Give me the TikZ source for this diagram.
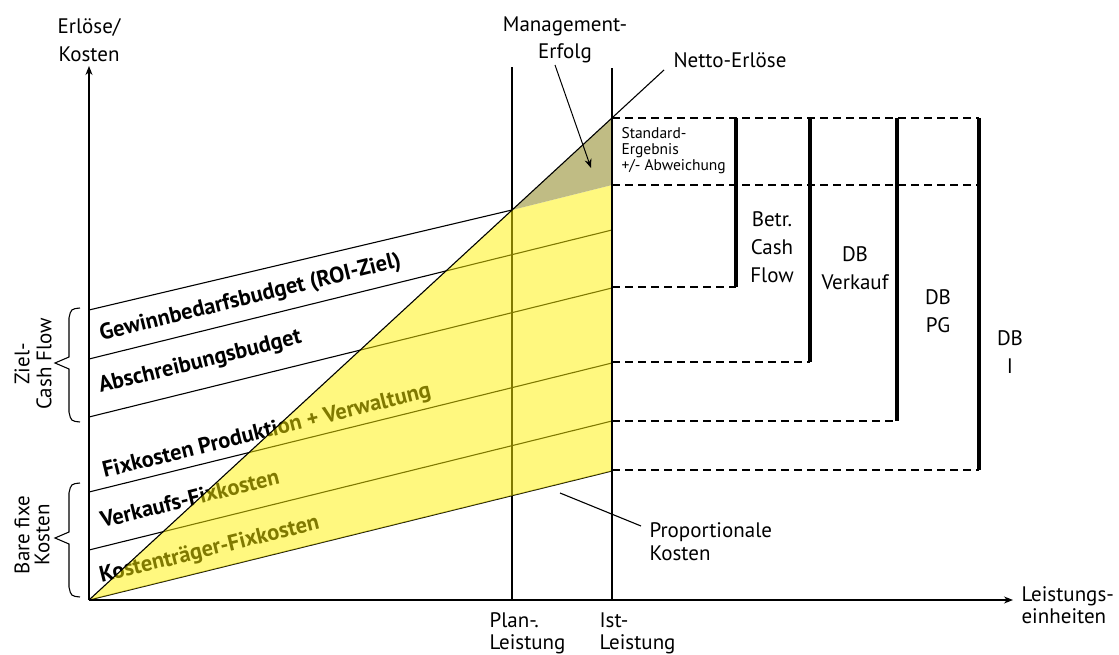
\documentclass[tikz,border=0pt]{standalone}
\usepackage{fontspec}
\setmainfont{PT Sans}
\usetikzlibrary{arrows.meta}
\definecolor{mgray}{RGB}{192,188,132}
\begin{document}
\begin{tikzpicture}[x=1pt,y=-1pt, line width=1.1pt,
  lbl/.style={inner sep=0pt, font=\fontsize{21}{28}\selectfont, align=center},
  lbll/.style={inner sep=0pt, font=\fontsize{21}{22}\selectfont, align=left},
  small/.style={inner sep=0pt, font=\fontsize{15.5}{16}\selectfont, align=left},
  boldlbl/.style={inner sep=0pt, font=\bfseries\fontsize{22.5}{25}\selectfont, anchor=base west, rotate=13.9},
  dashln/.style={dash pattern=on 8pt off 5pt, line width=1.1pt},
  dbbar/.style={line width=3.4pt},
  arr/.style={-{Stealth[length=9pt,width=7pt]}},
]
\useasboundingbox (0,0) rectangle (1119,655);
% coordinates
\coordinate (O) at (89,600);
\coordinate (Ytip) at (89,66);
\coordinate (Xtip) at (1013,600);
\coordinate (P0) at (512,600);
\coordinate (P1) at (512,67);
\coordinate (I0) at (612,600);
\coordinate (I1) at (612,68);
\coordinate (N1) at (664,70);
\coordinate (NP) at (512,210);
\coordinate (NI) at (612,118);
\coordinate (G) at (612,185);
\coordinate (A1) at (89,550); \coordinate (B1) at (612,421);
\coordinate (A2) at (89,492); \coordinate (B2) at (612,363);
\coordinate (A3) at (89,417); \coordinate (B3) at (612,288);
\coordinate (A4) at (89,359); \coordinate (B4) at (612,230);
\coordinate (A5) at (89,310);
\coordinate (B0) at (612,471);
% under-layer lines and texts
\draw (P0) -- (P1);
\draw (O) -- (B0);
\draw (A1) -- (B1);
\draw (A2) -- (B2);
\draw (A3) -- (B3);
\draw (A4) -- (B4);
\draw (A5) -- (NP);
\node[boldlbl] (gew) at (101,341) {Gewinnbedarfsbudget (ROI-Ziel)};
\node[boldlbl] (abs) at (100,393) {Abschreibungsbudget};
\node[boldlbl] (fix) at (104,478) {Fixkosten Produktion + Verwaltung};
\node[boldlbl] (vk) at (102,528) {Verkaufs-Fixkosten};
\node[boldlbl] (kt) at (101,583) {Kostenträger-Fixkosten};
% yellow overlay
\fill[yellow, opacity=0.5] (O) -- (NP) -- (G) -- (B0) -- cycle;
\fill[mgray] (NP) -- (NI) -- (G) -- cycle;
% top lines
\draw (O) -- (N1);
\draw (I0) -- (I1);
\draw[arr] (O) -- (Ytip);
\draw[arr] (O) -- (Xtip);
% dashed lines and bars
\coordinate (D1) at (979,118);
\coordinate (D2a) at (612,185); \coordinate (D2) at (979,185);
\coordinate (D3a) at (612,287); \coordinate (D3) at (736,287);
\coordinate (D4a) at (612,362); \coordinate (D4) at (810,362);
\coordinate (D5a) at (612,421); \coordinate (D5) at (897,421);
\coordinate (D6a) at (612,470); \coordinate (D6) at (979,470);
\draw[dashln] (NI) -- (D1);
\draw[dashln] (D2a) -- (D2);
\draw[dashln] (D3a) -- (D3);
\draw[dashln] (D4a) -- (D4);
\draw[dashln] (D5a) -- (D5);
\draw[dashln] (D6a) -- (D6);
\coordinate (T1) at (736,118); \coordinate (T2) at (810,118); \coordinate (T3) at (897,118);
\draw[dbbar] (T1) -- (D3);
\draw[dbbar] (T2) -- (D4);
\draw[dbbar] (T3) -- (D5);
\draw[dbbar] (D1) -- (D6);
% braces
\draw (80,308) .. controls (71,309) .. (69,318) -- (69,357) -- (55,363) -- (69,369) -- (69,412) .. controls (71,421) .. (80,422);
\draw (80,483) .. controls (71,484) .. (69,493) -- (69,532) -- (55,538) -- (69,544) -- (69,587) .. controls (71,596) .. (80,597);
% labels
\node[lbl] (ylab) at (89,40) {Erlöse/\\Kosten};
\node[lbll, anchor=west] (xlab) at (1021,605) {Leistungs-\\einheiten};
\node[lbll, anchor=north west] (plan) at (489,612) {Plan-.\\Leistung};
\node[lbll, anchor=north west] (ist) at (599,612) {Ist-\\Leistung};
\node[lbll, font=\fontsize{21}{23}\selectfont, anchor=north west] (prop) at (649,522) {Proportionale\\Kosten};
\coordinate (propL) at (560,493);
\coordinate (propR) at (641,526);
\draw (propL) -- (propR);
\node[lbll, anchor=base west] (netto) at (673,68) {Netto-Erlöse};
\node[lbl, font=\fontsize{21}{26.5}\selectfont] (mgmt) at (565,40) {Management-\\Erfolg};
\coordinate (mgmtA) at (555,65);
\coordinate (mgmtB) at (591,168);
\draw[arr, line width=1pt] (mgmtA) -- (mgmtB);
\node[small, anchor=north west] (std) at (621,127) {Standard-\\Ergebnis\\+/- Abweichung};
\node[lbl] (betr) at (772,247) {Betr.\\Cash\\Flow};
\node[lbl] (dbv) at (855,268) {DB\\Verkauf};
\node[lbl] (dbpg) at (938,311.5) {DB\\PG};
\node[lbl] (dbi) at (1010,352) {DB\\I};
\node[lbl, font=\fontsize{21}{22}\selectfont, rotate=90] (ziel) at (33,364) {Ziel-\\Cash Flow};
\node[lbl, font=\fontsize{21}{20}\selectfont, rotate=90] (bare) at (32,535) {Bare fixe\\Kosten};
\end{tikzpicture}
\end{document}
